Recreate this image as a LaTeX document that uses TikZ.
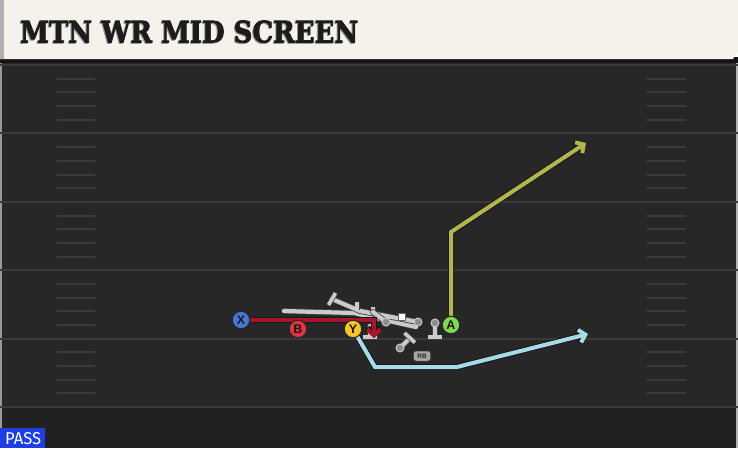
\documentclass[tikz,border=0pt]{standalone}
\usepackage{fontspec}
\usepackage{graphicx}
\usetikzlibrary{arrows.meta}
\newfontfamily\titlefont[FakeBold=2.5]{DejaVu Serif}
\newfontfamily\labfont{Liberation Sans}
\newfontfamily\passfont{Fira Sans}
\definecolor{fieldbg}{HTML}{272727}
\definecolor{fieldlow}{HTML}{212121}
\definecolor{yardline}{HTML}{3A3A3A}
\definecolor{titlebg}{HTML}{F4F2EB}
\definecolor{titleedge}{HTML}{B0B0B0}
\definecolor{titletext}{HTML}{1C1C1C}
\definecolor{xblue}{HTML}{4677D6}
\definecolor{bred}{HTML}{E0363F}
\definecolor{yyellow}{HTML}{F6C52A}
\definecolor{agreen}{HTML}{80D850}
\definecolor{olive}{HTML}{B3B64C}
\definecolor{skyblue}{HTML}{A6DCEA}
\definecolor{crimson}{HTML}{A8152F}
\definecolor{olgray}{HTML}{CBCBCB}
\definecolor{passblue}{HTML}{1E3FE4}
\pgfdeclarelayer{field}
\pgfdeclarelayer{routes}
\pgfsetlayers{field,routes,main}
\begin{document}
\begin{tikzpicture}[x=1pt,y=-1pt,
  player/.style={circle, draw=black!85, line width=1pt, minimum size=17.5pt, inner sep=0pt,
    font=\labfont\bfseries\fontsize{12.5}{12.5}\selectfont, text=black!90},
  yard/.style={draw=yardline, line width=2pt},
  hashmark/.style={draw=yardline, line width=2pt, line cap=round},
  routeback/.style={draw=black!90, line width=6pt, line join=miter,
    -{Straight Barb[length=6pt,width=13pt]}},
  routefront/.style={line width=4pt, line join=miter,
    -{Straight Barb[length=6pt,width=13pt]}},
  olline/.style={draw=olgray, line width=4.2pt, line cap=round,
    preaction={draw=black!75, line width=5.8pt, line cap=round}},
  olbar/.style={draw=olgray, line width=3.6pt, line cap=butt,
    preaction={draw=black!75, line width=5pt, line cap=butt}},
  oldot/.style={circle, fill=black!45, draw=olgray, line width=1pt, inner sep=0pt, minimum size=8pt}
]
\useasboundingbox (0,0) rectangle (738,448);

% ---------- field ----------
\begin{pgfonlayer}{field}
\fill[fieldbg] (0,58) rectangle (738,448);
\fill[fieldlow] (0,408) rectangle (738,448);
\fill[black!40] (0,60) rectangle (2,448);
\fill[black!30] (736,60) rectangle (738,448);
\foreach \k in {0,...,5} {
  \draw[yard] (0,{65+68.4*\k}) -- (738,{65+68.4*\k});
}
\foreach \k in {0,...,4} {
  \foreach \j in {1,...,4} {
    \draw[hashmark] (57,{65+68.4*\k+13.7*\j}) -- (95,{65+68.4*\k+13.7*\j});
    \draw[hashmark] (647,{65+68.4*\k+13.7*\j}) -- (685,{65+68.4*\k+13.7*\j});
  }
}
% title bar
\fill[black!92] (0,57) rectangle (738,63);
\fill[titlebg] (0,0) -- (738,0) -- (738,51) -- (733,59) -- (0,59) -- cycle;
\fill[titleedge] (0,0) rectangle (4,59);
\node[anchor=south west, inner sep=0pt, text=black!40] (titleshadow) at (19,44)
  {\resizebox{338pt}{22pt}{\titlefont\bfseries MTN WR MID SCREEN}};
\node[anchor=south west, inner sep=0pt, text=titletext] (title) at (20,43)
  {\resizebox{338pt}{22pt}{\titlefont\bfseries MTN WR MID SCREEN}};
% pass badge
\fill[passblue] (0,428) rectangle (45,448);
\node[anchor=south west, inner sep=0pt, text=white] (pass) at (5,445)
  {\resizebox{36pt}{12pt}{\passfont PASS}};
\end{pgfonlayer}

% ---------- players ----------
\node[player, fill=xblue] (X) at (241,320) {X};
\node[player, fill=bred] (B) at (298,329) {B};
\node[player, fill=yyellow] (Y) at (353,329) {Y};
\node[player, fill=agreen] (A) at (451,325) {A};

% line / blockers
\node[oldot] (ol1) at (386,322) {};
\node[oldot] (ol2) at (418,322) {};
\node[oldot] (ol3) at (435,323) {};
\node[oldot] (ol4) at (400,348) {};
\node[draw=black!60, fill=white, line width=0.6pt, minimum size=7.5pt, inner sep=0pt] (C) at (402,317) {};
\node[fill=black!35, draw=black!75, line width=0.5pt, rounded corners=2.5pt, minimum width=17pt,
  minimum height=10pt, inner sep=0pt, text=black!85,
  font=\labfont\bfseries\fontsize{6.5}{6.5}\selectfont] (RB) at (422,356) {RB};

\coordinate (olL) at (284,311);
\coordinate (olM) at (354,313);
\coordinate (olE) at (416,327);
\coordinate (olT) at (332,299);
\coordinate (olK) at (360,311);
\coordinate (rE) at (374,320);
\coordinate (rT) at (374,338);
\coordinate (oC) at (451,232);
\coordinate (oT) at (586,143);
\coordinate (bC1) at (375,367);
\coordinate (bC2) at (457,367);
\coordinate (bT) at (588,334);

\begin{pgfonlayer}{routes}
% gray blocking marks
\draw[olline] (olL) -- (olM) -- (olE);
\draw[olline] (olT) -- (olK) -- (ol2.center);
\draw[olbar] (328.5,305) -- (335.5,293);
\draw[olbar] (357,302) -- (357,310);
\draw[olbar] (373,307) -- (373,315);
\draw[olline] (ol1.center) -- (373,312);
\draw[olline] (370,326) -- (370,336);
\draw[olbar] (363,337) -- (377,337);
\draw[olline] (ol3.center) -- (435,336);
\draw[olbar] (428,337) -- (442,337);
\draw[olline] (ol4.center) -- (410,338);
\draw[olbar] (404.5,333) -- (415,342.5);
% routes: outline pass
\draw[routeback] (A.center) -- (oC) -- (oT);
\draw[routeback] (Y.center) -- (bC1) -- (bC2) -- (bT);
\draw[routeback] (X.center) -- (rE) -- (rT);
% routes: colour pass
\draw[routefront, draw=olive] (A.center) -- (oC) -- (oT);
\draw[routefront, draw=skyblue] (Y.center) -- (bC1) -- (bC2) -- (bT);
\draw[routefront, draw=crimson] (X.center) -- (rE) -- (rT);
\end{pgfonlayer}
\end{tikzpicture}
\end{document}
